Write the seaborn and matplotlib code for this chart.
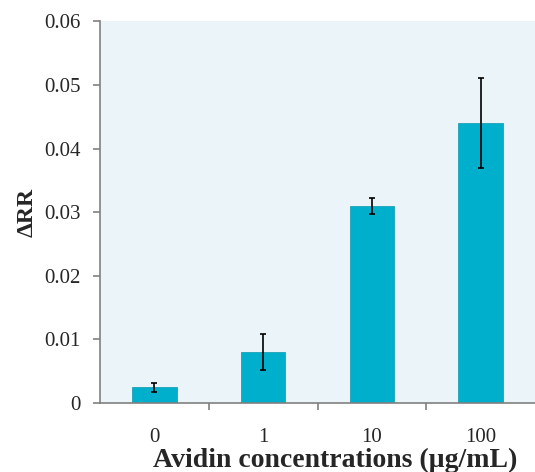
import matplotlib
matplotlib.use('Agg')
import matplotlib.pyplot as plt
import seaborn as sns
import pandas as pd
from matplotlib.ticker import FixedLocator

# data
concentrations = ['0', '1', '10', '100']
delta_rr = [0.0025, 0.008, 0.031, 0.044]
errors = [0.0007, 0.0028, 0.0013, 0.0071]

df = pd.DataFrame({'conc': concentrations, 'drr': delta_rr, 'err': errors})

sns.set_style('ticks')
plt.rcParams['font.family'] = ['Liberation Serif', 'DejaVu Serif']

fig = plt.figure(figsize=(5.35, 4.72), dpi=100)
ax = fig.add_axes([0.187, 0.146, 0.813, 0.809])
ax.set_facecolor('#EBF5F9')

sns.barplot(data=df, x='conc', y='drr', color='#00AFCB', width=0.41,
            saturation=1, errorbar=None, edgecolor='#1E9FB5', linewidth=0.6, ax=ax)
ax.errorbar(range(len(df)), df['drr'], yerr=df['err'], fmt='none',
            ecolor='black', elinewidth=1.2, capsize=2.5, capthick=1.2)

ax.set_xlim(-0.5, 3.5)
ax.set_ylim(0, 0.06)
ax.set_yticks([0, 0.01, 0.02, 0.03, 0.04, 0.05, 0.06])
ax.set_yticklabels(['0', '0.01', '0.02', '0.03', '0.04', '0.05', '0.06'])
ax.xaxis.set_minor_locator(FixedLocator([0.5, 1.5, 2.5]))
ax.tick_params(axis='x', which='major', length=0, labelsize=15, pad=18)
ax.tick_params(axis='x', which='minor', length=5, width=1.2, color='#808080')
ax.tick_params(axis='y', length=5, width=1.2, color='#808080', labelsize=15, pad=9)

for s in ['top', 'right']:
    ax.spines[s].set_visible(False)
for s in ['left', 'bottom']:
    ax.spines[s].set_color('#808080')
    ax.spines[s].set_linewidth(1.2)

ax.set_xlabel('Avidin concentrations (\u00b5g/mL)', fontsize=20, fontweight='bold')
ax.xaxis.set_label_coords(0.54, -0.116)
ax.set_ylabel('\u0394RR', fontsize=17, fontweight='bold', labelpad=5)

fig.savefig('out.png', dpi=100)
